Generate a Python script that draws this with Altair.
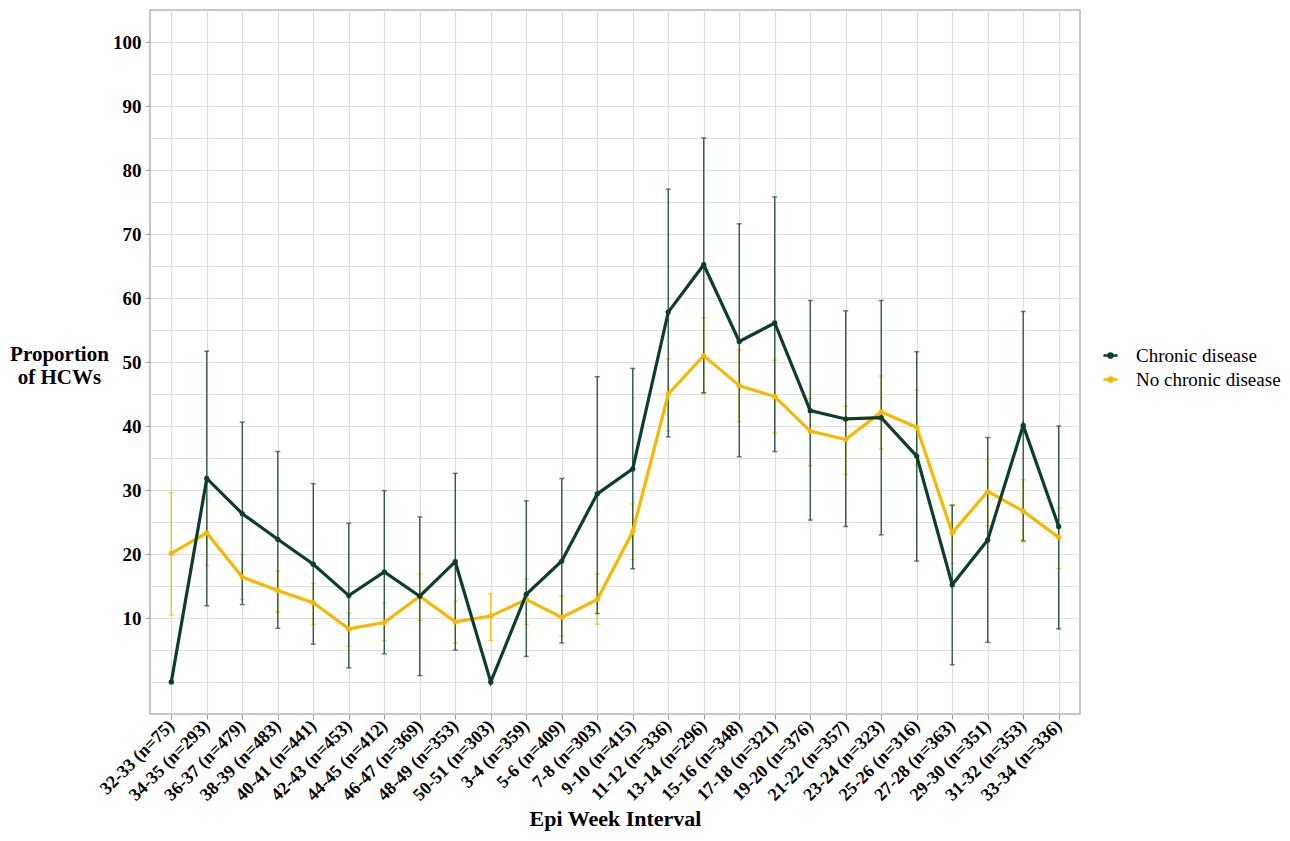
import altair as alt
import pandas as pd

cats = ["32-33 (n=75)", "34-35 (n=293)", "36-37 (n=479)", "38-39 (n=483)", "40-41 (n=441)",
        "42-43 (n=453)", "44-45 (n=412)", "46-47 (n=369)", "48-49 (n=353)", "50-51 (n=303)",
        "3-4 (n=359)", "5-6 (n=409)", "7-8 (n=303)", "9-10 (n=415)", "11-12 (n=336)",
        "13-14 (n=296)", "15-16 (n=348)", "17-18 (n=321)", "19-20 (n=376)", "21-22 (n=357)",
        "23-24 (n=323)", "25-26 (n=316)", "27-28 (n=363)", "29-30 (n=351)", "31-32 (n=353)",
        "33-34 (n=336)"]

chronic = [0, 31.8, 26.3, 22.3, 18.4, 13.5, 17.2, 13.4, 18.8, 0, 13.7, 18.9, 29.4, 33.3,
           57.8, 65.2, 53.2, 56.1, 42.4, 41.1, 41.3, 35.3, 15.2, 22.2, 40.1, 24.3]
chronic_lo = [None, 11.9, 12.1, 8.4, 5.9, 2.2, 4.4, 1.0, 5.0, None, 4.0, 6.1, 10.7, 17.7,
              38.3, 45.2, 35.2, 36.0, 25.3, 24.3, 23.0, 18.9, 2.7, 6.2, 22.1, 8.3]
chronic_hi = [None, 51.7, 40.6, 36.0, 31.0, 24.8, 29.9, 25.8, 32.6, None, 28.3, 31.8, 47.7, 49.0,
              77.0, 85.0, 71.6, 75.8, 59.6, 58.0, 59.6, 51.6, 27.6, 38.2, 57.9, 40.0]

nochronic = [20.1, 23.3, 16.4, 14.3, 12.4, 8.3, 9.3, 13.4, 9.4, 10.3, 12.9, 10.1, 12.9, 23.5,
             45.0, 51.0, 46.3, 44.6, 39.2, 37.9, 42.2, 39.8, 23.3, 29.8, 26.7, 22.6]
nochronic_lo = [10.5, 18.2, 12.9, 10.9, 9.0, 5.6, 6.4, 9.6, 6.1, 6.5, 9.0, 7.2, 9.0, 19.1,
                39.2, 45.0, 40.7, 38.9, 33.8, 32.4, 36.4, 33.8, 18.5, 24.4, 21.8, 17.7]
nochronic_hi = [29.6, 28.5, 19.9, 17.3, 15.4, 10.8, 12.3, 16.9, 12.6, 13.8, 16.1, 13.4, 16.9, 27.8,
                50.5, 56.9, 51.9, 50.3, 44.3, 43.1, 47.8, 45.6, 27.7, 34.7, 31.6, 27.2]

series_names = ["Chronic disease", "No chronic disease"]
GREEN = "#0c3d2d"
GREEN_ERR = "#24503f"
YELLOW = "#f6b800"
YELLOW_ERR = "#f2c300"
FONT = "Liberation Serif"
GRID = "#dcdcdc"

rows = []
for i, c in enumerate(cats):
    rows.append({"cat": c, "series": series_names[0], "val": chronic[i],
                 "lo": chronic_lo[i], "hi": chronic_hi[i]})
for i, c in enumerate(cats):
    rows.append({"cat": c, "series": series_names[1], "val": nochronic[i],
                 "lo": nochronic_lo[i], "hi": nochronic_hi[i]})
df = pd.DataFrame(rows)

x_enc = alt.X("cat:N", sort=cats, scale=alt.Scale(type="point", padding=0.6),
              title="Epi Week Interval",
              axis=alt.Axis(labelAngle=-45, labelAlign="right", labelBaseline="middle",
                            labelFont=FONT, labelFontWeight="bold", labelFontSize=18,
                            labelColor="black", labelPadding=4, tickSize=5, tickColor="#9a9a9a",
                            titleFont=FONT, titleFontWeight="bold", titleFontSize=22,
                            titleColor="black", titleY=111, titleBaseline="alphabetic",
                            domain=False, grid=True, gridColor=GRID, gridWidth=1.2,
                            labelOverlap=False))

yscale = alt.Scale(domain=[-5, 105], nice=False, zero=False)
y_axis = alt.Axis(values=list(range(0, 101, 5)),
                  labelExpr="datum.value % 10 == 0 && datum.value > 0 ? datum.label : ''",
                  tickOpacity={"condition": {"test": "datum.value % 10 == 0 && datum.value > 0", "value": 1}, "value": 0},
                  tickSize=5, tickColor="#9a9a9a", labelPadding=4,
                  labelFont=FONT, labelFontWeight="bold", labelFontSize=19, labelColor="black",
                  title=["Proportion", "of HCWs"], titleAngle=0, titleAlign="center",
                  titleBaseline="alphabetic", titleX=-91, titleY=350, titleLineHeight=23,
                  titleFont=FONT, titleFontWeight="bold", titleFontSize=21, titleColor="black",
                  domain=False, gridColor=GRID, gridWidth=1.2)

color_scale = alt.Scale(domain=series_names, range=[GREEN, YELLOW])

base = alt.Chart(df)

def err_layers(name, col):
    d = base.transform_filter(alt.datum.series == name).transform_filter("isValid(datum.lo)")
    rule = d.mark_rule(color=col, strokeWidth=1.3).encode(
        x=x_enc, y=alt.Y("lo:Q", scale=yscale, axis=y_axis), y2="hi:Q")
    cap_lo = d.mark_tick(color=col, size=5, thickness=1.5, orient="horizontal").encode(
        x=x_enc, y=alt.Y("lo:Q", scale=yscale, axis=y_axis))
    cap_hi = d.mark_tick(color=col, size=5, thickness=1.5, orient="horizontal").encode(
        x=x_enc, y=alt.Y("hi:Q", scale=yscale, axis=y_axis))
    return [rule, cap_lo, cap_hi]

def line_layer(name):
    d = base.transform_filter(alt.datum.series == name)
    return d.mark_line(strokeWidth=3.2, point=alt.OverlayMarkDef(size=28, filled=True)).encode(
        x=x_enc, y=alt.Y("val:Q", scale=yscale, axis=y_axis),
        color=alt.Color("series:N", scale=color_scale, sort=series_names,
                        legend=alt.Legend(title=None, orient="none", legendX=951, legendY=336,
                                          symbolType="M-1,0L1,0M-0.3,0a0.3,0.3 0 1,0 0.6,0a0.3,0.3 0 1,0 -0.6,0",
                                          symbolSize=200, symbolStrokeWidth=2.5,
                                          labelFont=FONT, labelFontSize=19, labelColor="black",
                                          rowPadding=4, labelOffset=16)))

layers = err_layers(series_names[1], YELLOW_ERR) + err_layers(series_names[0], GREEN_ERR) + \
    [line_layer(series_names[1]), line_layer(series_names[0])]

chart = alt.layer(*layers).properties(
    width=930, height=704,
    autosize=alt.AutoSizeParams(type="none"),
    padding={"left": 142, "top": 2, "right": 202, "bottom": 118},
    background="white",
).configure_view(stroke="#b5b5b5", strokeWidth=1.5)

chart.save("out.html", embed_options={"renderer": "svg", "actions": False})
